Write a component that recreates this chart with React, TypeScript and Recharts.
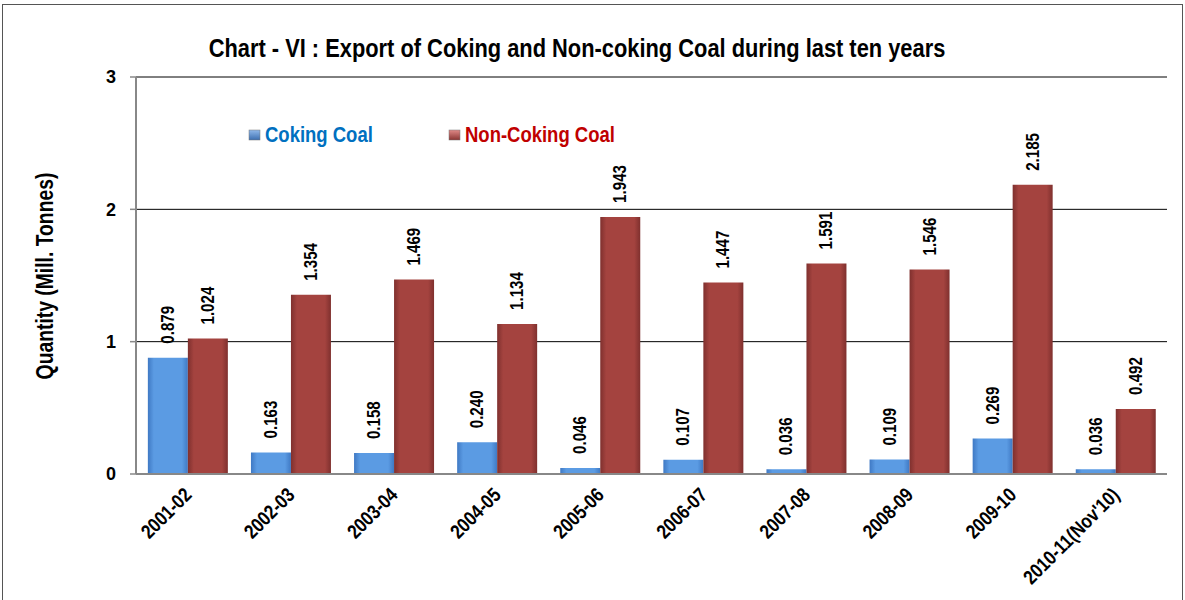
import React from "react"
import {Bar, BarChart, CartesianGrid, LabelList, Legend, XAxis, YAxis} from "recharts"

const years = [
    "2001-02", "2002-03", "2003-04", "2004-05", "2005-06",
    "2006-07", "2007-08", "2008-09", "2009-10", "2010-11(Nov'10)",
]
const cokingCoal = [0.879, 0.163, 0.158, 0.240, 0.046, 0.107, 0.036, 0.109, 0.269, 0.036]
const nonCokingCoal = [1.024, 1.354, 1.469, 1.134, 1.943, 1.447, 1.591, 1.546, 2.185, 0.492]
const yTicks = [0, 1, 2, 3]

const FONT = "'Liberation Sans', Arial, sans-serif"
const NARROW = 0.84

const data = years.map((year, i) => ({
    year,
    coking: cokingCoal[i],
    nonCoking: nonCokingCoal[i],
    idx: i + 0.5,
}))

const boundaryTicks = years.map((_, i) => i).concat(years.length)

function XTick({x, y, payload}: any) {
    const tx = x - 5
    const ty = y + 4
    return (
        <g transform={`translate(${tx} ${ty}) rotate(-45) scale(${NARROW} 1)`}>
            <text
                x={0}
                y={0}
                textAnchor="end"
                dy="0.72em"
                fontFamily={FONT}
                fontWeight="bold"
                fontSize={20}
                fill="#000"
            >
                {payload.value}
            </text>
        </g>
    )
}

function ValueLabel({x, y, width, value}: any) {
    const cx = x + width / 2 + 6
    const cy = y - 14
    return (
        <g transform={`translate(${cx} ${cy}) rotate(-90) scale(${NARROW} 1)`}>
            <text
                x={0}
                y={0}
                textAnchor="start"
                fontFamily={FONT}
                fontWeight="bold"
                fontSize={18}
                fill="#000"
            >
                {Number(value).toFixed(3)}
            </text>
        </g>
    )
}

function LegendContent() {
    const items = [
        {label: "Coking Coal", fill: "url(#legBlue)", color: "#0070c0", width: 200},
        {label: "Non-Coking Coal", fill: "url(#legRed)", color: "#c00000", width: 200},
    ]
    return (
        <div style={{display: "flex", fontFamily: FONT, fontWeight: "bold", fontSize: 22}}>
            {items.map((it) => (
                <div key={it.label} style={{display: "flex", alignItems: "center", width: it.width}}>
                    <svg width={14} height={12} style={{marginRight: 3}}>
                        <defs>
                            <linearGradient id="legBlue" x1="0" y1="0" x2="0" y2="1">
                                <stop offset="0%" stopColor="#8fb8ea"/>
                                <stop offset="100%" stopColor="#3d6fb0"/>
                            </linearGradient>
                            <linearGradient id="legRed" x1="0" y1="0" x2="0" y2="1">
                                <stop offset="0%" stopColor="#e08a88"/>
                                <stop offset="100%" stopColor="#8a3533"/>
                            </linearGradient>
                        </defs>
                        <rect x={1} y={1} width={11} height={10} fill={it.fill} stroke="#777" strokeWidth={0.5}/>
                    </svg>
                    <span style={{color: it.color, display: "inline-block", transform: `scaleX(${NARROW})`, transformOrigin: "left center"}}>
                        {it.label}
                    </span>
                </div>
            ))}
        </div>
    )
}

export default function App() {
    return (
        <div style={{position: "absolute", left: 0, top: 0, width: 1185, height: 600, background: "#fff"}}>
            <div style={{
                position: "absolute", left: 2, top: 4, width: 1181, height: 600,
                border: "1.5px solid #555", borderBottom: "none", boxSizing: "border-box",
            }}/>
            <div style={{
                position: "absolute", left: 577, top: 48, transform: `translate(-50%, -50%) scaleX(${NARROW})`,
                whiteSpace: "nowrap", fontFamily: FONT, fontWeight: "bold", fontSize: 26,
            }}>
                Chart - VI : Export of Coking and Non-coking Coal during last ten years
            </div>
            <div style={{
                position: "absolute", left: 45, top: 276, transform: `translate(-50%, -50%) rotate(-90deg) scaleX(${NARROW})`,
                whiteSpace: "nowrap", fontFamily: FONT, fontWeight: "bold", fontSize: 23,
            }}>
                Quantity (Mill. Tonnes)
            </div>
            <BarChart
                width={1185}
                height={600}
                data={data}
                margin={{top: 77, right: 18, left: 76, bottom: 26}}
                barCategoryGap="11.5%"
                barGap={0}
                style={{position: "absolute", left: 0, top: 0}}
            >
                <defs>
                    <linearGradient id="blueBar" x1="0" y1="0" x2="1" y2="0">
                        <stop offset="0%" stopColor="#3f79c4"/>
                        <stop offset="15%" stopColor="#5b9be3"/>
                        <stop offset="85%" stopColor="#5b9be3"/>
                        <stop offset="100%" stopColor="#3f79c4"/>
                    </linearGradient>
                    <linearGradient id="redBar" x1="0" y1="0" x2="1" y2="0">
                        <stop offset="0%" stopColor="#7f302e"/>
                        <stop offset="15%" stopColor="#a4433f"/>
                        <stop offset="85%" stopColor="#a4433f"/>
                        <stop offset="100%" stopColor="#7f302e"/>
                    </linearGradient>
                </defs>
                <CartesianGrid vertical={false} stroke="#000" strokeWidth={1} yAxisId="left"/>
                <XAxis
                    dataKey="year"
                    interval={0}
                    tick={<XTick/>}
                    tickLine={false}
                    axisLine={{stroke: "#888", strokeWidth: 2}}
                    height={100}
                />
                <XAxis
                    xAxisId="bounds"
                    type="number"
                    dataKey="idx"
                    domain={[0, years.length]}
                    ticks={boundaryTicks}
                    tick={false}
                    tickLine={{stroke: "#888", strokeWidth: 1.5}}
                    tickSize={6}
                    axisLine={false}
                    height={0}
                />
                <YAxis
                    yAxisId="left"
                    domain={[0, 3]}
                    ticks={yTicks}
                    width={60}
                    axisLine={{stroke: "#888", strokeWidth: 2}}
                    tickLine={{stroke: "#888", strokeWidth: 1.5}}
                    tickSize={6}
                    tick={{fontFamily: FONT, fontWeight: "bold", fontSize: 18, fill: "#000", dx: -12}}
                />
                <YAxis
                    yAxisId="right"
                    orientation="right"
                    domain={[0, 3]}
                    width={0}
                    tick={false}
                    tickLine={false}
                    axisLine={{stroke: "#000", strokeWidth: 1.2}}
                />
                <Legend
                    verticalAlign="middle"
                    content={<LegendContent/>}
                    wrapperStyle={{position: "absolute", left: 248, top: 122, width: 500}}
                />
                <Bar yAxisId="left" dataKey="coking" name="Coking Coal" fill="url(#blueBar)" isAnimationActive={false}>
                    <LabelList dataKey="coking" content={<ValueLabel/>}/>
                </Bar>
                <Bar yAxisId="left" dataKey="nonCoking" name="Non-Coking Coal" fill="url(#redBar)" isAnimationActive={false}>
                    <LabelList dataKey="nonCoking" content={<ValueLabel/>}/>
                </Bar>
            </BarChart>
        </div>
    )
}
